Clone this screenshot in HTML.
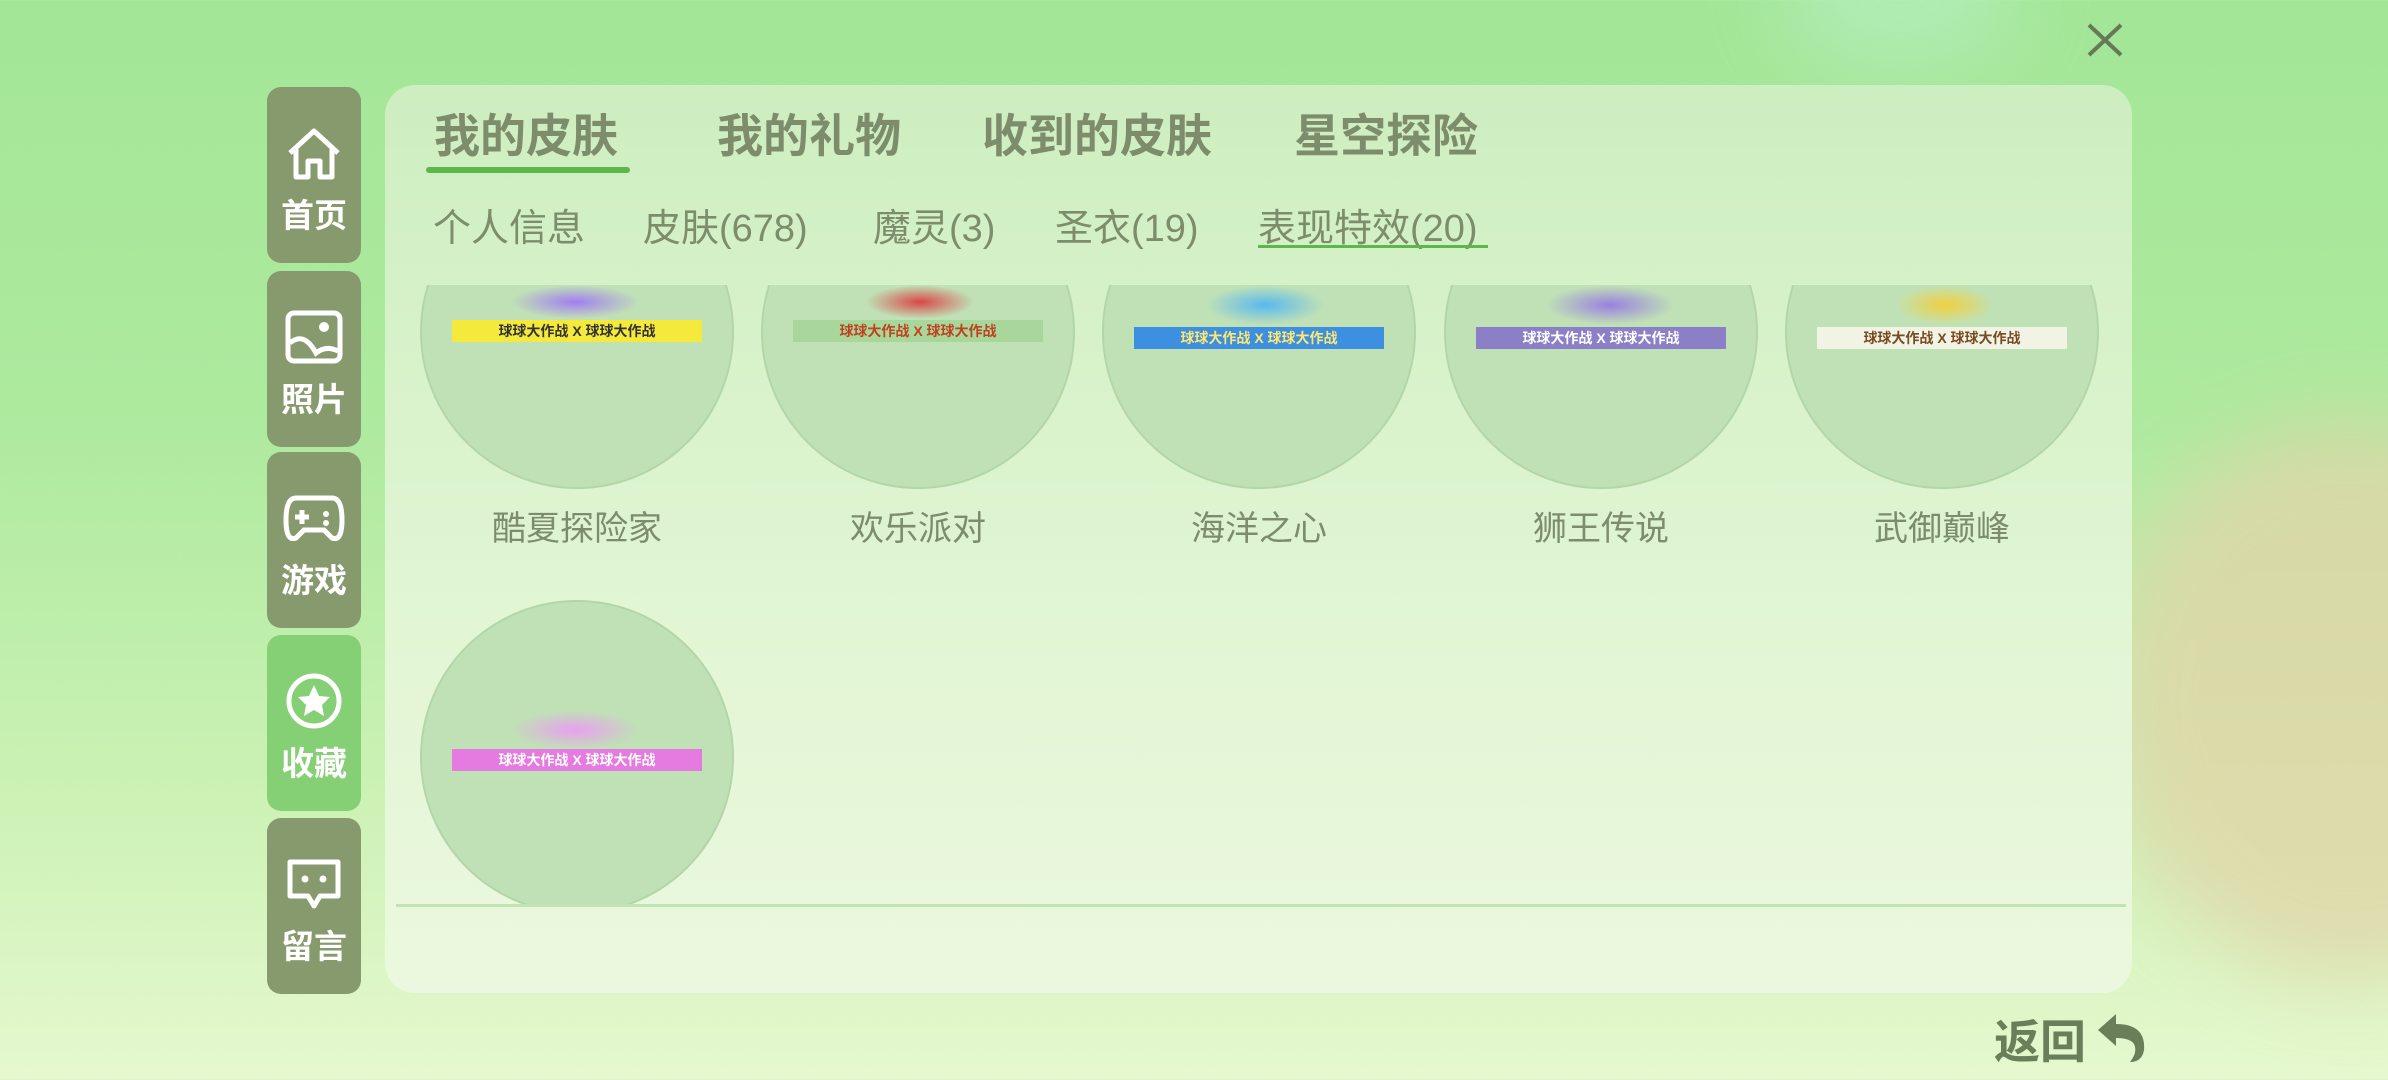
<!DOCTYPE html>
<html><head><meta charset="utf-8"><style>
*{margin:0;padding:0;box-sizing:border-box}
body{width:2388px;height:1080px;overflow:hidden;position:relative;font-family:"Liberation Sans","Noto Sans CJK SC",sans-serif;
background:linear-gradient(180deg,#a3e697 0%,#aeea9f 40%,#cdf2b6 75%,#e6f8cf 100%);}
.blob{position:absolute;border-radius:50%;filter:blur(40px)}
.side{position:absolute;left:267px;width:94px;height:176px;border-radius:14px;background:#879a6d;color:#fff;text-align:center;font-size:33px;font-weight:bold}
.side svg{display:block;margin:38px auto 8px}
.panel{position:absolute;left:385px;top:85px;width:1747px;height:908px;border-radius:30px;background:linear-gradient(180deg,#cdeec0 0%,#e2f6d4 60%,#ebf8df 100%);overflow:hidden}
.t{position:absolute;font-size:46px;font-weight:bold;color:#7d8d6c;white-space:nowrap}
.s{position:absolute;font-size:38px;color:#7d8d6c;white-space:nowrap}
.c{position:absolute;width:314px;height:314px;border-radius:50%;background:#c0e1b6;border:2px solid #b3d6a9}
.lbl{position:absolute;width:314px;text-align:center;font-size:34px;color:#7d8d6c}
.ban{position:absolute;height:22px;width:250px;font-size:14px;text-align:center;line-height:22px;color:#333;font-weight:bold}
</style></head><body>
<div class="blob" style="left:2100px;top:420px;width:500px;height:560px;background:#e2d4a8;opacity:.75"></div>
<div class="blob" style="left:1780px;top:-80px;width:240px;height:150px;background:#b5efc0;opacity:.7"></div>

<div class="side" style="top:87px"><svg width="60" height="56" viewBox="0 0 60 56"><path d="M6 28 L30 6 L54 28 M12 24 V52 H24 V36 H36 V52 H48 V24" fill="none" stroke="#fff" stroke-width="5" stroke-linejoin="round"/></svg>首页</div>
<div class="side" style="top:271px"><svg width="60" height="56" viewBox="0 0 60 56"><rect x="4" y="4" width="52" height="48" rx="6" fill="none" stroke="#fff" stroke-width="5"/><circle cx="40" cy="18" r="5" fill="#fff"/><path d="M6 34 Q20 22 32 44 Q42 36 54 42" fill="none" stroke="#fff" stroke-width="5"/></svg>照片</div>
<div class="side" style="top:452px"><svg width="64" height="56" viewBox="0 0 64 56"><path d="M14 8 H50 Q60 8 60 30 Q60 52 50 48 L42 40 H22 L14 48 Q4 52 4 30 Q4 8 14 8Z" fill="none" stroke="#fff" stroke-width="5"/><path d="M20 20 V34 M13 27 H27" stroke="#fff" stroke-width="5"/><circle cx="44" cy="24" r="3" fill="#fff"/><circle cx="44" cy="33" r="3" fill="#fff"/></svg>游戏</div>
<div class="side" style="top:635px;background:#85cf74"><svg width="60" height="56" viewBox="0 0 60 56"><circle cx="30" cy="28" r="25" fill="none" stroke="#fff" stroke-width="5"/><path d="M30 12 L35 23 L46 24 L38 32 L40 43 L30 37 L20 43 L22 32 L14 24 L25 23Z" fill="#fff"/></svg>收藏</div>
<div class="side" style="top:818px"><svg width="60" height="56" viewBox="0 0 60 56"><path d="M6 6 H54 V40 H36 L30 50 L24 40 H6Z" fill="none" stroke="#fff" stroke-width="5" stroke-linejoin="round"/><circle cx="21" cy="23" r="3.5" fill="#fff"/><circle cx="39" cy="23" r="3.5" fill="#fff"/></svg>留言</div>

<div class="panel">
<div class="t" style="left:49px;top:15px">我的皮肤</div>
<div style="position:absolute;left:41px;top:82px;width:204px;height:6px;border-radius:3px;background:#5cb84a"></div>
<div class="t" style="left:332px;top:15px">我的礼物</div>
<div class="t" style="left:597px;top:15px">收到的皮肤</div>
<div class="t" style="left:909px;top:15px">星空探险</div>
<div class="s" style="left:48px;top:112px">个人信息</div>
<div class="s" style="left:258px;top:112px">皮肤(678)</div>
<div class="s" style="left:488px;top:112px">魔灵(3)</div>
<div class="s" style="left:670px;top:112px">圣衣(19)</div>
<div class="s" style="left:873px;top:112px">表现特效(20)</div>
<div style="position:absolute;left:873px;top:160px;width:230px;height:3px;background:#5cb84a"></div>

<div style="position:absolute;left:0;top:200px;width:1747px;height:620px;overflow:hidden">
 <div class="c" style="left:35px;top:-110px"></div>
 <div class="c" style="left:376px;top:-110px"></div>
 <div class="c" style="left:717px;top:-110px"></div>
 <div class="c" style="left:1059px;top:-110px"></div>
 <div class="c" style="left:1400px;top:-110px"></div>
 <div class="c" style="left:35px;top:315px"></div>
 <div class="ban" style="left:67px;top:35px;background:#f5e93c">球球大作战 X 球球大作战</div>
 <div class="ban" style="left:408px;top:35px;background:#a9d69a;color:#c04020">球球大作战 X 球球大作战</div>
 <div class="ban" style="left:749px;top:42px;background:#3d8fe0;color:#ffe870">球球大作战 X 球球大作战</div>
 <div class="ban" style="left:1091px;top:42px;background:#8b7fc8;color:#fff">球球大作战 X 球球大作战</div>
 <div class="ban" style="left:1432px;top:42px;background:#f1f3e4;color:#7a4a20">球球大作战 X 球球大作战</div>
 <div class="ban" style="left:67px;top:464px;background:#e57ae0;color:#fff">球球大作战 X 球球大作战</div>
 <div style="position:absolute;left:125px;top:0;width:130px;height:34px;background:radial-gradient(#a27ef0,transparent 70%)"></div>
 <div style="position:absolute;left:125px;top:425px;width:130px;height:40px;background:radial-gradient(#e8a0f0,transparent 70%)"></div>
 <div style="position:absolute;left:480px;top:0;width:110px;height:34px;background:radial-gradient(#d84848,transparent 70%)"></div>
 <div style="position:absolute;left:820px;top:0;width:120px;height:40px;background:radial-gradient(#58b8f0,transparent 70%)"></div>
 <div style="position:absolute;left:1160px;top:0;width:130px;height:40px;background:radial-gradient(#9a80e0,transparent 70%)"></div>
 <div style="position:absolute;left:1510px;top:0;width:100px;height:40px;background:radial-gradient(#f0d040,transparent 70%)"></div>
</div>
<div class="lbl" style="left:35px;top:416px">酷夏探险家</div>
<div class="lbl" style="left:376px;top:416px">欢乐派对</div>
<div class="lbl" style="left:717px;top:416px">海洋之心</div>
<div class="lbl" style="left:1059px;top:416px">狮王传说</div>
<div class="lbl" style="left:1400px;top:416px">武御巅峰</div>
<div style="position:absolute;left:11px;top:819px;width:1730px;height:3px;background:#c3e2b8"></div>
</div>

<svg style="position:absolute;left:2086px;top:22px" width="38" height="36" viewBox="0 0 38 36"><path d="M3 3 L35 33 M35 3 L3 33" stroke="#647a57" stroke-width="4"/></svg>
<div style="position:absolute;left:1994px;top:1006px;font-size:46px;font-weight:bold;color:#6a7e5a">返回</div>
<svg style="position:absolute;left:2096px;top:1012px" width="52" height="52" viewBox="0 0 52 52"><path d="M2 18 L20 2 V12 Q50 12 48 38 Q46 50 34 50 Q42 40 38 32 Q34 26 20 26 V34Z" fill="#6a7e5a"/></svg>
</body></html>
